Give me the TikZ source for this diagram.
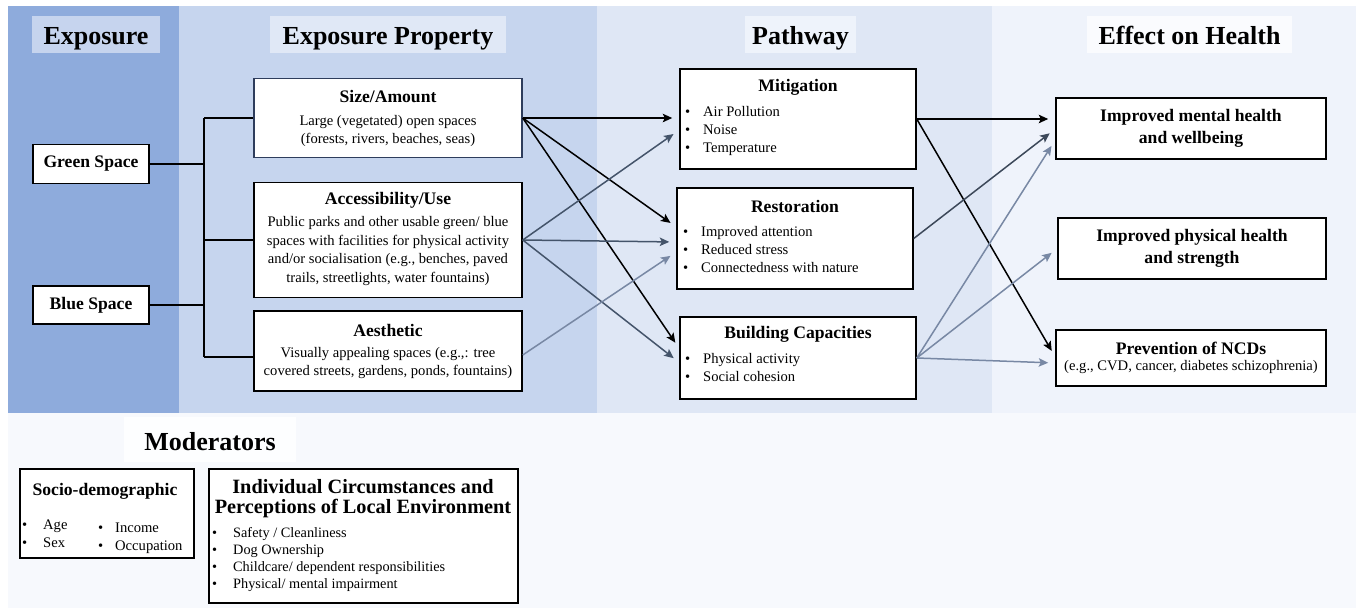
\documentclass[tikz,border=0pt]{standalone}
\usepackage{fontspec}
\setmainfont{Liberation Serif}
\usetikzlibrary{arrows.meta,calc}
\definecolor{cA}{HTML}{8EABDC}
\definecolor{cB}{HTML}{C6D5EE}
\definecolor{cC}{HTML}{DFE7F5}
\definecolor{cD}{HTML}{EFF3FB}
\definecolor{cE}{HTML}{F7F9FD}
\definecolor{hA}{HTML}{C6D4EE}
\definecolor{hB}{HTML}{E0E8F6}
\definecolor{hC}{HTML}{EEF3FB}
\definecolor{hD}{HTML}{FAFBFE}
\definecolor{hE}{HTML}{FDFEFF}
\definecolor{arDark}{HTML}{44546A}
\definecolor{arRes}{HTML}{3C4859}
\definecolor{arLight}{HTML}{7888A4}
\definecolor{navyB}{HTML}{2E3D5C}
\newcommand{\bul}[2][18pt]{\makebox[#1][l]{\textbullet}#2}
\tikzset{
  box/.style={draw=black, line width=1.5pt, fill=white, inner sep=0pt},
  hdrbox/.style={inner sep=0pt, minimum height=37, text height=24pt, text depth=3pt, font=\fontsize{26}{30}\selectfont\bfseries},
  ttl/.style={inner sep=0pt, font=\fontsize{17.6}{21.5}\selectfont\bfseries, align=center},
  body/.style={inner sep=0pt, font=\fontsize{14.6}{18.6}\selectfont, align=center},
  blist/.style={inner sep=0pt, anchor=west, font=\fontsize{14.6}{18}\selectfont, align=left},
  tree/.style={line width=1.6pt, black},
  arr/.style={line width=1.5pt, -{Stealth[length=9.5pt,width=8.5pt,inset=2pt]}, shorten >=7pt}
}
\begin{document}
\begin{tikzpicture}[x=1pt,y=-1pt]
\useasboundingbox (0,0) rectangle (1360,610);
% background bands
\fill[cA] (8,6) rectangle (179,413);
\fill[cB] (179,6) rectangle (597,413);
\fill[cC] (597,6) rectangle (992,413);
\fill[cD] (992,6) rectangle (1356,413);
\fill[cE] (8,413) rectangle (1356,608);
% header labels
\node[hdrbox, fill=hA, minimum width=128] (hExp) at (96,34.5) {Exposure};
\node[hdrbox, fill=hB, minimum width=236] (hProp) at (388,34.5) {Exposure Property};
\node[hdrbox, fill=hC, minimum width=111] (hPath) at (800.5,34.5) {Pathway};
\node[hdrbox, fill=hD, minimum width=205] (hEff) at (1189.5,34.5) {Effect on Health};
\node[hdrbox, fill=hE, minimum width=172, minimum height=45] (hMod) at (210,439.5) {Moderators};
% exposure
\node[box, minimum width=116, minimum height=39, font=\fontsize{17.6}{21}\selectfont\bfseries] (gs) at (91,164) {Green Space};
\node[box, minimum width=116, minimum height=38, font=\fontsize{17.6}{21}\selectfont\bfseries] (bs) at (91,305) {Blue Space};
% exposure properties
\node[box, draw=navyB, minimum width=268, minimum height=79] (sz) at (388,118) {};
\node[ttl] (szT) at (388,97) {Size/Amount};
\node[body] (szB) at (388,131) {Large (vegetated) open spaces\\(forests, rivers, beaches, seas)};
\node[box, minimum width=268, minimum height=115] (acc) at (388,240) {};
\node[ttl] (accT) at (388,200) {Accessibility/Use};
\node[body] (accB) at (388,251) {Public parks and other usable green/ blue\\spaces with facilities for physical activity\\and/or socialisation (e.g., benches, paved\\trails, streetlights, water fountains)};
\node[box, minimum width=268, minimum height=80] (aes) at (388,351) {};
\node[ttl] (aesT) at (388,330) {Aesthetic};
\node[body] (aesB) at (388,363) {Visually appealing spaces (e.g.,: tree\\covered streets, gardens, ponds, fountains)};
% pathways
\node[box, minimum width=236, minimum height=100] (mit) at (798,119) {};
\node[ttl] (mitT) at (798,87) {Mitigation};
\node[blist] (mitB) at (685,130.5) {\bul{Air Pollution}\\\bul{Noise}\\\bul{Temperature}};
\node[box, minimum width=236, minimum height=101] (res) at (795,238.5) {};
\node[ttl] (resT) at (795,206) {Restoration};
\node[blist] (resB) at (683,250) {\bul{Improved attention}\\\bul{Reduced stress}\\\bul{Connectedness with nature}};
\node[box, minimum width=236, minimum height=82] (bld) at (798,358) {};
\node[ttl] (bldT) at (798,334) {Building Capacities};
\node[blist] (bldB) at (685,368) {\bul{Physical activity}\\\bul{Social cohesion}};
% effects
\node[box, minimum width=270, minimum height=61, font=\fontsize{17.6}{21.5}\selectfont\bfseries, align=center] (mh) at (1191,128.5) {Improved mental health\\and wellbeing};
\node[box, minimum width=268, minimum height=61, font=\fontsize{17.6}{21.5}\selectfont\bfseries, align=center] (ph) at (1192,248.5) {Improved physical health\\and strength};
\node[box, minimum width=270, minimum height=56] (ncd) at (1191,358) {};
\node[ttl] (ncdT) at (1191,348) {Prevention of NCDs};
\node[body] (ncdB) at (1191,367.5) {(e.g., CVD, cancer, diabetes schizophrenia)};
% moderators
\node[box, minimum width=174, minimum height=89] (soc) at (107,513.5) {};
\node[ttl] (socT) at (105,491) {Socio-demographic};
\node[blist] (socA) at (22,534) {\bul[21pt]{Age}\\\bul[21pt]{Sex}};
\node[blist] (socB) at (98,538) {\bul[17pt]{Income}\\\bul[17pt]{Occupation}};
\node[box, minimum width=309, minimum height=134] (ind) at (363.5,536) {};
\node[ttl, font=\fontsize{20.3}{19.5}\selectfont\bfseries] (indT) at (363,498.5) {Individual Circumstances and\\Perceptions of Local Environment};
\node[blist, font=\fontsize{14.3}{17}\selectfont] (indB) at (212,560) {\bul[21pt]{Safety / Cleanliness}\\\bul[21pt]{Dog Ownership}\\\bul[21pt]{Childcare/ dependent responsibilities}\\\bul[21pt]{Physical/ mental impairment}};
% tree connectors
\coordinate (jt) at (204,118);
\coordinate (jb) at (204,357);
\draw[tree] (jt) -- (jb);
\draw[tree] (gs.east) -- (gs.east -| jt);
\draw[tree] (bs.east) -- (bs.east -| jt);
\draw[tree] (jt) -- (sz.west);
\draw[tree] (acc.west -| jt) -- (acc.west);
\draw[tree] (jb) -- (jb -| aes.west);
% arrows to pathways
\draw[arr] (sz.east) -- ($(mit.west)+(0,-1)$);
\draw[arr] (sz.east) -- ($(res.west)+(0,-11.5)$);
\draw[arr] (sz.east) -- ($(bld.west)+(0,-9.5)$);
\draw[arr, arDark] (acc.east) -- ($(mit.west)+(0,11)$);
\draw[arr, arDark] (acc.east) -- ($(res.west)+(0,3.5)$);
\draw[arr, arDark] (acc.east) -- ($(bld.west)+(0,4.5)$);
\draw[arr, arLight] ($(aes.east)+(0,4)$) -- ($(res.west)+(0,13.5)$);
% arrows to effects
\draw[arr] (mit.east) -- ($(mh.west)+(0,-9.5)$);
\draw[arr] (mit.east) -- ($(ncd.west)+(0,-1)$);
\draw[arr, arRes] (res.east) -- ($(mh.west)+(0,0.5)$);
\draw[arr, arLight] (bld.east) -- ($(mh.west)+(0,11.5)$);
\draw[arr, arLight] (bld.east) -- (ph.west);
\draw[arr, arLight] (bld.east) -- ($(ncd.west)+(0,5)$);
\end{tikzpicture}
\end{document}
